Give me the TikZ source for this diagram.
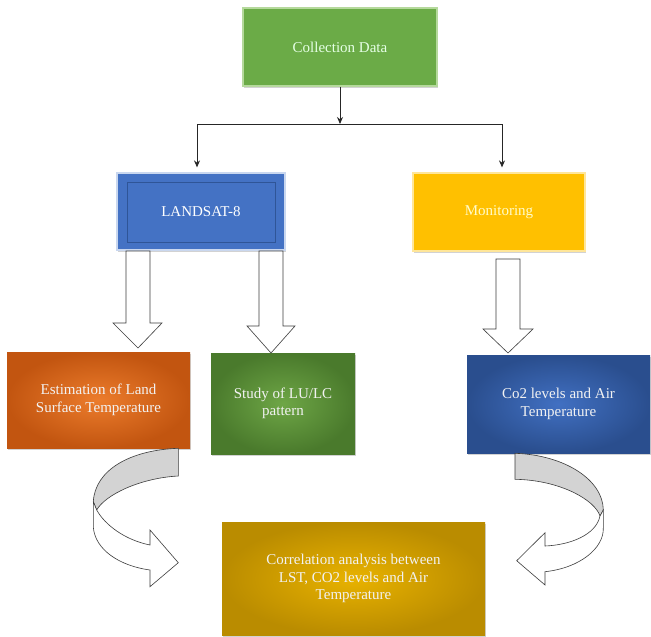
\documentclass[tikz,border=0pt]{standalone}
\usepackage{fontspec}
\setmainfont{Liberation Serif}
\usetikzlibrary{arrows.meta,shadows}
\definecolor{cdgreen}{HTML}{6BAB47}
\definecolor{cdborder}{HTML}{B5D99C}
\definecolor{lsblue}{HTML}{4472C4}
\definecolor{lsborder}{HTML}{C9D7EF}
\definecolor{lsinner}{HTML}{2F5597}
\definecolor{monyellow}{HTML}{FFC000}
\definecolor{monborder}{HTML}{FFE699}
\definecolor{orout}{HTML}{C25510}
\definecolor{orin}{HTML}{EC7C2C}
\definecolor{grout}{HTML}{4A7A2C}
\definecolor{grin}{HTML}{6EA646}
\definecolor{blout}{HTML}{2A4E8E}
\definecolor{blin}{HTML}{4170C2}
\definecolor{goout}{HTML}{BA8C00}
\definecolor{goin}{HTML}{E8B200}
\definecolor{ribbon}{HTML}{D3D3D3}
\definecolor{outline}{HTML}{3C3C3C}
\tikzset{
  box/.style={rectangle, inner sep=0pt, align=center, font=\fontsize{15}{17.5}\selectfont,
    drop shadow={shadow xshift=1pt, shadow yshift=-2pt, opacity=0.35}},
  flatbox/.style={box, line width=1.2pt},
  gradbox/.style={box, shading=radial, text=white!95!black},
  conn/.style={line width=1pt, black!85, -{Stealth[length=7pt,width=6pt]}},
  blockarrow/.style={fill=white, draw=outline, line width=0.6pt, line join=miter},
  band/.style={fill=ribbon, draw=outline, line width=0.6pt},
  front/.style={fill=white, draw=outline, line width=0.6pt}
}
\begin{document}
\begin{tikzpicture}[x=1pt,y=-1pt]
\useasboundingbox (0,0) rectangle (651,637);
\fill[white] (0,0) rectangle (651,637);

% top boxes
\node[flatbox, fill=cdgreen, draw=cdborder, minimum width=194pt, minimum height=78pt,
  text=green!10!white] (cd) at (340,47) {Collection Data};
\node[flatbox, fill=lsblue, draw=lsborder, minimum width=168pt, minimum height=77pt,
  text=white] (landsat) at (201,211.5) {LANDSAT-8};
\draw[lsinner, line width=0.6pt] ([shift={(11,10)}]landsat.north west) rectangle ([shift={(-10,-8)}]landsat.south east);
\node[flatbox, fill=monyellow, draw=monborder, minimum width=172pt, minimum height=78pt,
  text=yellow!20!white] (mon) at (499,212) {Monitoring};

% middle boxes
\node[gradbox, inner color=orin, outer color=orout, minimum width=183pt, minimum height=96pt]
  (lst) at (98.5,400) {Estimation of Land\\Surface Temperature};
\node[gradbox, inner color=grin, outer color=grout, minimum width=144pt, minimum height=101pt]
  (lulc) at (283,403.5) {Study of LU/LC\\pattern};
\node[gradbox, inner color=blin, outer color=blout, minimum width=183pt, minimum height=98pt]
  (co2) at (558.5,404) {Co2 levels and Air\\Temperature};

% bottom box
\node[gradbox, inner color=goin, outer color=goout, minimum width=263pt, minimum height=113pt]
  (corr) at (353.5,578.5) {Correlation analysis between\\LST, CO2 levels and Air\\Temperature};

% tree connectors
\coordinate (j) at (340,124);
\draw[conn] (cd.south) -- (j);
\draw[conn] (j) -| ([xshift=-4pt,yshift=5pt]landsat.north);
\draw[conn] (j) -| ([xshift=3pt,yshift=5pt]mon.north);

% block arrows
\draw[blockarrow] (126,251) -- (150,251) -- (150,323) -- (162,323) -- (138,348) -- (113,323) -- (126,323) -- cycle;
\draw[blockarrow] (259,251) -- (283,251) -- (283,326) -- (295,326) -- (271,353) -- (247,326) -- (259,326) -- cycle;
\draw[blockarrow] (496,259) -- (520,259) -- (520,329) -- (533,329) -- (508,353) -- (483,329) -- (496,329) -- cycle;

% left curved ribbon arrow
\draw[band] (178.3,448.3) .. controls (130,450) and (95,470) .. (93.3,501.7)
  -- (96.7,510) .. controls (105,495) and (140,478) .. (178.3,476) -- cycle;
\draw[front] (93.3,501.7) -- (93.3,527) .. controls (95,550) and (120,566) .. (150,570)
  -- (150,586.7) -- (178.3,562.7) -- (150,530) -- (150,545)
  .. controls (125,540) and (105,525) .. (96.7,510) -- cycle;

% right curved ribbon arrow
\draw[band] (515,453.3) .. controls (565,455) and (603,480) .. (603.3,510)
  -- (600,516) .. controls (595,500) and (560,480) .. (515,479.3) -- cycle;
\draw[front] (603.3,510) -- (603.3,528) .. controls (604,548) and (580,568) .. (545,571.7)
  -- (545,585) -- (516.7,560.7) -- (545,532.7) -- (545,546)
  .. controls (570,545) and (596,535) .. (600,516) -- cycle;
\end{tikzpicture}
\end{document}
